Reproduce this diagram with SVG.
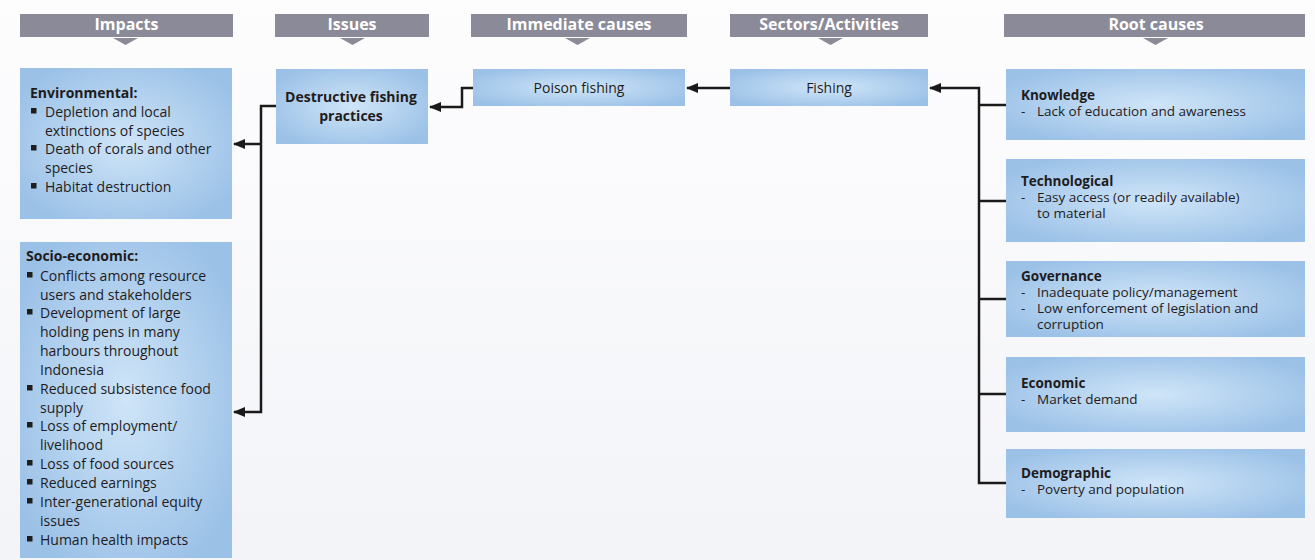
<svg xmlns="http://www.w3.org/2000/svg" width="1315" height="560" viewBox="0 0 1315 560">
<defs>
<linearGradient id="bg" x1="0" y1="0" x2="0" y2="1">
<stop offset="0" stop-color="#fdfdfe"/>
<stop offset="1" stop-color="#f3f4f8"/>
</linearGradient>
<radialGradient id="box" cx="0.5" cy="0.5" r="0.6">
<stop offset="0" stop-color="#cfe5f8"/>
<stop offset="1" stop-color="#9bc1e7"/>
</radialGradient>
<marker id="arr" markerWidth="12" markerHeight="10" refX="11" refY="5" orient="auto" markerUnits="userSpaceOnUse">
<path d="M0,0 L12,5 L0,10 Z" fill="#1a1a1a"/>
</marker>
<style>
.hdr{fill:#8b8a98}
.tri{fill:#8b8a98}
.ht{font-family:"Open Sans","Liberation Sans",sans-serif;font-size:16px;font-weight:bold;fill:#ffffff;text-anchor:middle}
.bx{fill:url(#box)}
.t{font-family:"Open Sans","Liberation Sans",sans-serif;font-size:14px;fill:#1f1c1d}
.r{font-size:13.5px}
.b{font-weight:bold}
.c{text-anchor:middle}
.bul{fill:#1f1c1d}
.ln{fill:none;stroke:#1a1a1a;stroke-width:2.5}
</style>
</defs>
<rect x="0" y="0" width="1315" height="560" fill="url(#bg)"/>

<g id="headers">
<rect class="hdr" x="20" y="14" width="213" height="23"/>
<path class="tri" d="M113,38 L138,38 L125.5,45 Z"/>
<text class="ht" x="126.5" y="30">Impacts</text>
<rect class="hdr" x="275" y="14" width="154" height="23"/>
<path class="tri" d="M340,38 L365,38 L352.5,45 Z"/>
<text class="ht" x="352" y="30">Issues</text>
<rect class="hdr" x="471" y="14" width="216" height="23"/>
<path class="tri" d="M565,38 L590,38 L577.5,45 Z"/>
<text class="ht" x="579" y="30">Immediate causes</text>
<rect class="hdr" x="730" y="14" width="198" height="23"/>
<path class="tri" d="M818,38 L843,38 L830.5,45 Z"/>
<text class="ht" x="829" y="30">Sectors/Activities</text>
<rect class="hdr" x="1004" y="14" width="301" height="23"/>
<path class="tri" d="M1143,38 L1168,38 L1155.5,45 Z"/>
<text class="ht" x="1156" y="30">Root causes</text>
</g>

<g id="environmental">
<rect class="bx" x="20" y="68" width="212" height="151"/>
<text class="t b" x="30" y="98">Environmental:</text>
<rect class="bul" x="31" y="108" width="5.5" height="5.5"/>
<text class="t" x="45" y="117">Depletion and local</text>
<text class="t" x="45" y="135.5">extinctions of species</text>
<rect class="bul" x="31" y="145" width="5.5" height="5.5"/>
<text class="t" x="45" y="154">Death of corals and other</text>
<text class="t" x="45" y="173">species</text>
<rect class="bul" x="31" y="183" width="5.5" height="5.5"/>
<text class="t" x="45" y="192">Habitat destruction</text>
</g>

<g id="socioeconomic">
<rect class="bx" x="20" y="242" width="212" height="316"/>
<text class="t b" x="26" y="261">Socio-economic:</text>
<rect class="bul" x="27" y="272" width="5.5" height="5.5"/>
<text class="t" x="40" y="281">Conflicts among resource</text>
<text class="t" x="40" y="299.5">users and stakeholders</text>
<rect class="bul" x="27" y="309" width="5.5" height="5.5"/>
<text class="t" x="40" y="318">Development of large</text>
<text class="t" x="40" y="337">holding pens in many</text>
<text class="t" x="40" y="356">harbours throughout</text>
<text class="t" x="40" y="375">Indonesia</text>
<rect class="bul" x="27" y="385" width="5.5" height="5.5"/>
<text class="t" x="40" y="394">Reduced subsistence food</text>
<text class="t" x="40" y="413">supply</text>
<rect class="bul" x="27" y="422" width="5.5" height="5.5"/>
<text class="t" x="40" y="431">Loss of employment/</text>
<text class="t" x="40" y="450">livelihood</text>
<rect class="bul" x="27" y="460" width="5.5" height="5.5"/>
<text class="t" x="40" y="469">Loss of food sources</text>
<rect class="bul" x="27" y="479" width="5.5" height="5.5"/>
<text class="t" x="40" y="488">Reduced earnings</text>
<rect class="bul" x="27" y="498" width="5.5" height="5.5"/>
<text class="t" x="40" y="507">Inter-generational equity</text>
<text class="t" x="40" y="526">issues</text>
<rect class="bul" x="27" y="536" width="5.5" height="5.5"/>
<text class="t" x="40" y="545">Human health impacts</text>
</g>

<g id="destructive">
<rect class="bx" x="276" y="69" width="152" height="75"/>
<text class="t b c" x="351" y="102">Destructive fishing</text>
<text class="t b c" x="351" y="121">practices</text>
</g>

<g id="poison">
<rect class="bx" x="473" y="69" width="212" height="37"/>
<text class="t c" x="579" y="93">Poison fishing</text>
</g>

<g id="fishing">
<rect class="bx" x="730" y="69" width="198" height="37"/>
<text class="t c" x="829" y="93">Fishing</text>
</g>

<g id="knowledge">
<rect class="bx" x="1006" y="69" width="299" height="71"/>
<text class="t r b" x="1021" y="100">Knowledge</text>
<text class="t r" x="1021" y="116">-</text>
<text class="t r" x="1037" y="116">Lack of education and awareness</text>
</g>

<g id="technological">
<rect class="bx" x="1006" y="159" width="299" height="83"/>
<text class="t r b" x="1021" y="186">Technological</text>
<text class="t r" x="1021" y="202">-</text>
<text class="t r" x="1037" y="202">Easy access (or readily available)</text>
<text class="t r" x="1037" y="218">to material</text>
</g>

<g id="governance">
<rect class="bx" x="1006" y="261" width="299" height="76"/>
<text class="t r b" x="1021" y="281">Governance</text>
<text class="t r" x="1021" y="297">-</text>
<text class="t r" x="1037" y="297">Inadequate policy/management</text>
<text class="t r" x="1021" y="313">-</text>
<text class="t r" x="1037" y="313">Low enforcement of legislation and</text>
<text class="t r" x="1037" y="329">corruption</text>
</g>

<g id="economic">
<rect class="bx" x="1006" y="357" width="299" height="75"/>
<text class="t r b" x="1021" y="388">Economic</text>
<text class="t r" x="1021" y="404">-</text>
<text class="t r" x="1037" y="404">Market demand</text>
</g>

<g id="demographic">
<rect class="bx" x="1006" y="449" width="299" height="69"/>
<text class="t r b" x="1021" y="478">Demographic</text>
<text class="t r" x="1021" y="494">-</text>
<text class="t r" x="1037" y="494">Poverty and population</text>
</g>

<g id="connectors">
<path class="ln" d="M1006,105 H979 M1006,201 H979 M1006,299 H979 M1006,394 H979 M1006,483 H979 V88 H930" marker-end="url(#arr)"/>
<path class="ln" d="M730,88 H687" marker-end="url(#arr)"/>
<path class="ln" d="M473,88 H462 V107 H430" marker-end="url(#arr)"/>
<path class="ln" d="M276,106 H261 V412 H234" marker-end="url(#arr)"/>
<path class="ln" d="M261,144 H234" marker-end="url(#arr)"/>
</g>
</svg>
